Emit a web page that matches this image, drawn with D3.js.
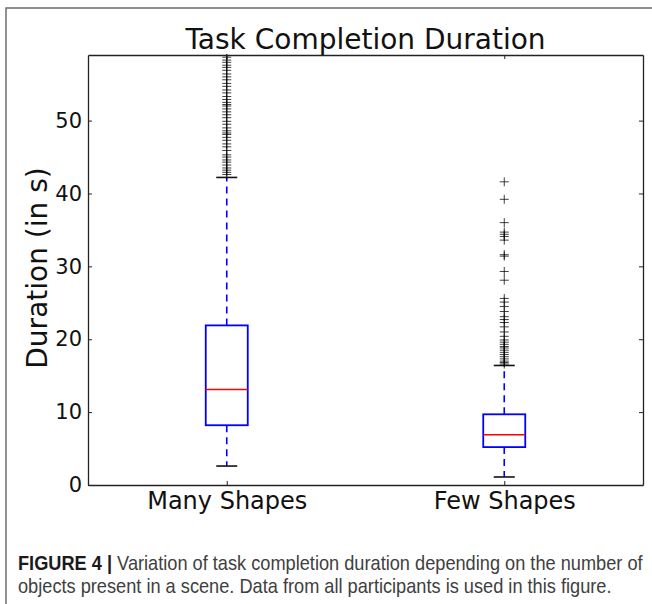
<!DOCTYPE html>
<html>
<head>
<meta charset="utf-8">
<script src="https://cdn.jsdelivr.net/npm/d3@7"></script>
<style>
  html, body { margin: 0; padding: 0; background: #fff; }
  svg { display: block; }
</style>
</head>
<body>
<svg id="chart" width="652" height="604"></svg>
<script>
// ---- data ----
const categories = ["Many Shapes", "Few Shapes"];
const whiskerLow = [2.6, 1.1];
const q1 = [8.2, 5.2];
const medians = [13.1, 6.9];
const q3 = [21.9, 9.7];
const whiskerHigh = [42.2, 16.4];
const outliersMany = [42.6, 42.9, 43.2, 43.5, 43.9, 44.3, 44.6, 45.0, 45.3, 45.9, 46.4, 46.8,
  47.3, 47.7, 48.1, 48.3, 48.6, 49.0, 49.5, 49.9, 50.4, 50.8, 51.2, 51.6, 52.0, 52.2, 52.5,
  52.9, 53.3, 53.8, 54.2, 54.7, 55.1, 55.6, 56.0, 56.4, 56.9, 57.3, 57.6, 58.0, 58.3, 58.7, 59.5, 61.0];
const outliersFew = [16.6, 16.8, 17.0, 17.3, 17.6, 17.9, 18.2, 18.5, 18.8, 19.0, 19.3, 19.6,
  19.9, 20.4, 21.0, 21.7, 22.3, 22.7, 23.1, 23.8, 24.5, 25.1, 25.6, 28.1, 29.3, 31.4, 31.6,
  33.6, 34.1, 34.4, 34.7, 36.0, 39.2, 41.6];
const outliers = [outliersMany, outliersFew];
const yTicks = [0, 10, 20, 30, 40, 50];
const yDomain = [0, 59];
const titleText = "Task Completion Duration";
const yLabelText = "Duration (in s)";
const captionBold = "FIGURE 4 | ";
const captionLine1 = "Variation of task completion duration depending on the number of";
const captionLine2 = "objects present in a scene. Data from all participants is used in this figure.";

// ---- layout ----
const svg = d3.select("#chart");
const L = 88, R = 643, T = 55, B = 485;
const font = "'DejaVu Sans', sans-serif";

// outer frame
svg.append("path").attr("d", `M6,604 L6,8 L652,8`)
  .attr("fill", "none").attr("stroke", "#6e6e6e").attr("stroke-width", 1.5);

const x = d3.scalePoint().domain(categories).range([L, R]).padding(0.5);
const y = d3.scaleLinear().domain(yDomain).range([B, T]);

svg.append("clipPath").attr("id", "plotclip")
  .append("rect").attr("x", L).attr("y", T - 1).attr("width", R - L).attr("height", B - T + 1);

const boxW = 42;
const g = svg.append("g");

categories.forEach((c, i) => {
  const cx = x(c);
  [[q3[i], whiskerHigh[i]], [q1[i], whiskerLow[i]]].forEach(([a, b]) => {
    g.append("line").attr("x1", cx).attr("x2", cx).attr("y1", y(a)).attr("y2", y(b))
      .attr("stroke", "#0000ff").attr("stroke-width", 1.6).attr("stroke-dasharray", "7,5");
  });
  [whiskerHigh[i], whiskerLow[i]].forEach(v => {
    g.append("line").attr("x1", cx - boxW / 4).attr("x2", cx + boxW / 4)
      .attr("y1", y(v)).attr("y2", y(v)).attr("stroke", "#111").attr("stroke-width", 1.6);
  });
  g.append("rect").attr("x", cx - boxW / 2).attr("width", boxW)
    .attr("y", y(q3[i])).attr("height", y(q1[i]) - y(q3[i]))
    .attr("fill", "none").attr("stroke", "#0000ff").attr("stroke-width", 1.8);
  g.append("line").attr("x1", cx - boxW / 2).attr("x2", cx + boxW / 2)
    .attr("y1", y(medians[i])).attr("y2", y(medians[i]))
    .attr("stroke", "#ff0000").attr("stroke-width", 1.6);
  const fg = g.append("g").attr("clip-path", "url(#plotclip)");
  outliers[i].forEach(v => {
    fg.append("path").attr("d", `M${cx - 4.5},${y(v)}H${cx + 4.5}M${cx},${y(v) - 4.5}V${y(v) + 4.5}`)
      .attr("stroke", "#000").attr("stroke-opacity", 0.75).attr("stroke-width", 1);
  });
});

// axes
const axL = svg.append("g").attr("transform", `translate(${L},0)`)
  .call(d3.axisLeft(y).tickValues(yTicks).tickSize(-4).tickPadding(6).tickSizeOuter(0));
const axR = svg.append("g").attr("transform", `translate(${R},0)`)
  .call(d3.axisRight(y).tickValues(yTicks).tickSize(-4).tickFormat("").tickSizeOuter(0));
const axB = svg.append("g").attr("transform", `translate(0,${B})`)
  .call(d3.axisBottom(x).tickSize(-4).tickPadding(7).tickSizeOuter(0));
const axT = svg.append("g").attr("transform", `translate(0,${T})`)
  .call(d3.axisTop(x).tickSize(-4).tickFormat("").tickSizeOuter(0));
[axL, axR, axB, axT].forEach(a => {
  a.select(".domain").attr("stroke", "#222").attr("stroke-width", 1.3);
  a.selectAll(".tick line").attr("stroke", "#222").attr("stroke-width", 1);
});
axL.selectAll(".tick text").attr("font-family", font).attr("font-size", 21).attr("fill", "#111");
axB.selectAll(".tick text").attr("font-family", font).attr("font-size", 24).attr("fill", "#111");

// title
svg.append("text").attr("x", (L + R) / 2).attr("y", 49).attr("text-anchor", "middle")
  .attr("font-family", font).attr("font-size", 28).attr("fill", "#111").text(titleText);

// y label
svg.append("text").attr("transform", `translate(47,${(T + B) / 2 - 2}) rotate(-90)`)
  .attr("text-anchor", "middle").attr("font-family", font).attr("font-size", 28)
  .attr("fill", "#111").text(yLabelText);

// caption (condensed look via horizontal scale)
const capFont = "'Liberation Sans', Arial, sans-serif";
const capG1 = svg.append("g");
const cap1 = capG1.append("text").attr("x", 0).attr("y", 0)
  .attr("font-family", capFont).attr("font-size", 20).attr("fill", "#404040");
cap1.append("tspan").attr("font-weight", "bold").attr("fill", "#1a1a1a").text(captionBold);
cap1.append("tspan").text(captionLine1);
const capG2 = svg.append("g");
const cap2 = capG2.append("text").attr("x", 0).attr("y", 0)
  .attr("font-family", capFont).attr("font-size", 20).attr("fill", "#404040").text(captionLine2);
const w = cap1.node().getComputedTextLength();
const sx = 625 / w;
capG1.attr("transform", `translate(18,570) scale(${sx},1)`);
capG2.attr("transform", `translate(18,593) scale(${sx},1)`);
</script>
</body>
</html>
